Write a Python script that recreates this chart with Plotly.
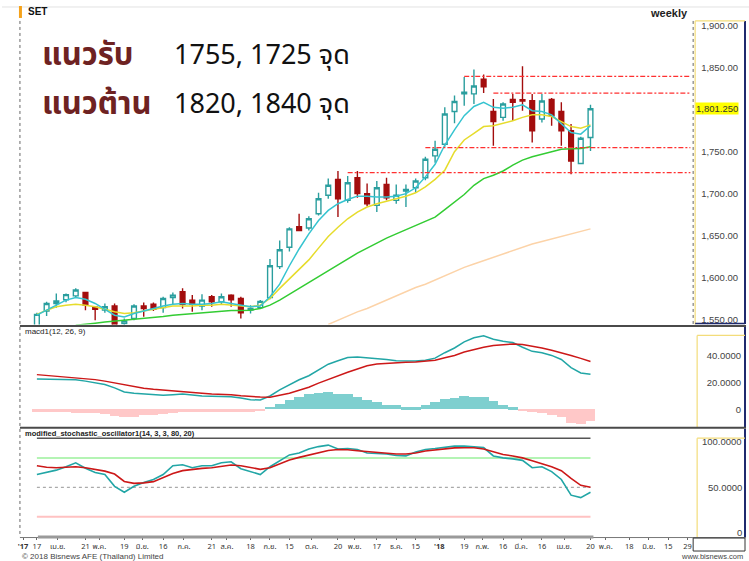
import pandas as pd
import plotly.graph_objects as go

W, H = 749, 561
def px(x): return x / W
def py(y): return 1 - y / H

# ---------------- data ----------------
start_week = "2017-03-17"
n_weeks = 58
weeks = pd.date_range(start_week, periods=n_weeks, freq="7D")

opens = [1538,1560,1569,1573.5,1578,1582,1564.5,1561,1566,1545,1551,1566,1568,1564,1576,1583,1573,1566,1577,1571,
         1579,1575,1561,1564,1576,1613,1636,1660.5,1659,1676,1698,1717,1692,1719,1700,1686,1711,1692,1703,1707,
         1719,1745,1759,1798,1819,1819,1836.5,1798,1791,1812.5,1812,1811,1789,1812.5,1798,1775,1736,1767]
highs = [1558,1571,1581,1581,1587,1583,1565,1569,1569,1551,1568,1570,1570,1577,1582,1587,1579,1580,1579,1581,
         1580,1577,1567,1573,1622,1644,1660,1676,1673,1701,1718,1727,1721,1727,1712,1715,1719,1711,1711,1718,
         1744,1763,1803,1817,1839,1848,1842,1813,1809,1819,1852,1819,1819,1814,1809,1783,1768,1806]
lows = [1530,1554,1564,1570.5,1576,1561,1549,1558,1535,1542,1549,1553,1560,1558,1568,1563,1559,1561,1565,1568,
        1565,1551,1557,1563,1574,1610,1631,1655,1656,1674,1694,1672,1689,1695,1685,1678,1692,1688,1684,1701,
        1716,1737,1756,1784,1805,1807,1820,1757,1787,1787,1799,1761,1785,1781,1757,1723,1735,1751]
closes = [1556,1569,1572,1579.5,1585,1567,1562,1565,1540,1548,1566,1563,1562,1575,1579,1568,1568,1573,1571,1577,
          1573.5,1558,1563,1571.5,1614,1633,1658,1656,1670,1694,1710,1694,1713,1700,1688,1707,1695,1698,1705,1715,
          1741,1753,1795,1810,1821,1828.5,1827.5,1786,1807,1809,1810.5,1775,1810.5,1793,1775,1739,1766,1801.25]

ma_cyan = [1555,1561,1568,1573,1576,1574,1569,1562,1555,1553,1557,1560,1563,1566,1568,1569,1568,1568,1569,1571,
           1569,1567,1565,1566,1577,1592,1614,1634,1652,1668,1680,1688,1693,1697,1697,1696,1696,1697,1700,1707,
           1720,1735,1758,1776,1793,1804,1809,1803,1802,1803,1806,1799,1798,1794,1783,1773,1771,1781]
ma_yellow = [1556,1561,1565,1567,1568,1567,1565,1562,1559,1557,1558,1560,1562,1564,1566,1566,1566,1567,1567,1568,
             1567,1566,1565,1567,1575,1587,1598,1609,1621,1635,1649,1660,1670,1678,1684,1688,1691,1694,1697,1701,
             1708,1717,1728,1750,1764,1772,1780,1781,1784,1787,1791,1794,1794,1792,1786,1780,1778,1782]
ma_green = [None,None,None,None,1543,1544,1545.5,1547,1548,1549,1550,1551,1552.5,1553.5,1555,1556,1557,1558,1559,1560,
            1560.5,1560.7,1561,1563,1567,1573,1580,1587,1594,1601,1609,1616,1622,1629,1635,1641,1647,1652,1657,1662,
            1667,1672,1681,1690,1699,1710,1718,1722,1727,1734,1740,1744,1747,1750,1753,1753.5,1754,1756]
ma_peach = [None]*30 + [1544,1549,1554,1559,1563,1568,1573,1578,1583,1588,1592,1597,1602,1607,1612,1616,1620,1624,
                        1628,1632,1636,1640,1643,1646,1649,1652,1655,1658]

levels = [1840, 1820, 1755, 1725]
level_start = ["2018-01-19", "2018-02-09", "2017-12-22", "2017-10-27"]
level_end = "2018-07-01"
last_price = 1801.25

macd = [22.5,22.3,22.2,22.1,22,21,19.8,18.5,16,13,12,11.5,11,10.5,11,11.5,10.8,10,9.8,9.6,
        9.5,8.5,7.2,7,10,14.5,18.5,22,25,29,33.5,36,38.5,38.8,38.3,38,37,36,35.8,35.8,
        36.5,38,42,45.5,50,53,54.5,52,50.5,49.5,46,43,42,40,37,31,27,26]
signal = [25.8,25.2,24.6,24,23.4,22.8,22.1,21,19.7,18.2,16.7,15.8,15,14.3,13.7,13,12.5,12,11.5,11.3,
          11,10.2,9.5,9.2,9,10.3,12,14.2,16.5,19.5,22.3,24.8,27.5,30,32.3,33.6,34.2,34.7,35,35.2,
          35.6,36.5,38.3,40,42.5,44.5,46,47.3,48,48.5,48,47,45.5,43.8,42,40,37.8,35.5]
hist = [-2.5,-2.5,-2.5,-2.5,-2.7,-3,-3,-3.5,-5,-5.8,-5.5,-4.5,-4,-3.5,-2.8,-2.5,-2.4,-2.3,-2.2,-2,
        -1.8,-1.8,-2,-1.5,1.5,4,7,9,11.5,12,12.8,11.5,10.8,9,7,5,3.3,3.3,1.3,1.3,
        3.3,5.5,7.8,8.5,9.5,9.2,8.8,6,3.3,1.3,-1,-2.5,-3,-4,-6,-10,-11,-9]

stoch_k = [63,65.5,67.5,71,75,69.5,65,63,51,45,51,55,58,63,72,73,70,72,72,75,
           76,69,66,63,71,77,83,85,89,91.5,93,89,89.5,88.5,85,84.5,84,82.5,82,86,
           88.5,89.5,91,92,92,91.5,90.5,82,80,79,77.5,70,71,66,58,42,39.5,45]
stoch_d = [72,70.5,70,70.5,71,70,68.5,66.5,63.5,56,54,54.5,55.8,60,64,67,68.5,69.3,70,71,
           72.7,72,70,68.3,70,74,77.8,80.5,83,85.5,87.5,88.5,88.3,87.3,86.5,85.7,84.8,84,84,85,
           87,88.3,89.3,90.2,90.3,90.3,89,86.3,83.5,82,80,77,74,71,67,59,52,50]
stoch_levels = [100, 80, 50, 20]

price_ticks = [1550, 1600, 1650, 1700, 1750, 1850, 1900]
macd_ticks = [0, 20, 40]
macd_ticktext = ["0", "20.0000", "40.0000"]
stoch_ticktext = ["100.0000", "50.0000", "0"]

tick_dates = ["2017-03-07","2017-03-17","2017-04-01","2017-04-21","2017-05-01","2017-05-19","2017-06-01",
              "2017-06-16","2017-07-01","2017-07-21","2017-08-01","2017-08-18","2017-09-01","2017-09-15",
              "2017-10-01","2017-10-20","2017-11-01","2017-11-17","2017-12-01","2017-12-15","2018-01-01",
              "2018-01-19","2018-02-01","2018-02-16","2018-03-01","2018-03-16","2018-04-01","2018-04-20",
              "2018-05-01","2018-05-18","2018-06-01","2018-06-15","2018-06-29"]
tick_text = ["<b>'17</b>","17","เม.ย.","21","พ.ค.","19","มิ.ย.","16","ก.ค.","21","ส.ค.","18","ก.ย.","15",
             "ต.ค.","20","พ.ย.","17","ธ.ค.","15","<b>'18</b>","19","ก.พ.","16","มี.ค.","16","เม.ย.","20",
             "พ.ค.","18","มิ.ย.","15","29"]

support_label = "แนวรับ"
support_text = "1755, 1725 จุด"
resist_label = "แนวต้าน"
resist_text = "1820, 1840 จุด"

# ---------------- styles ----------------
TEAL = "#2a9e9e"
DRED = "#a30d0d"
CYAN = "#36c4d0"
YEL = "#e6dc2c"
GRN = "#33cc33"
PEACH = "#fcd3a8"
LVL = "#ff3030"
FONT = "Arial, 'Liberation Sans', sans-serif"
THAI = "Tahoma, 'Noto Sans Thai', 'Noto Sans Thai UI', Loma, Garuda, 'Noto Sans', sans-serif"
x_range = ["2017-03-04 19:00", "2018-07-03"]

fig = go.Figure()

fig.add_trace(go.Candlestick(
    x=weeks, open=opens, high=highs, low=lows, close=closes,
    increasing=dict(line=dict(color=TEAL, width=1.4), fillcolor="white"),
    decreasing=dict(line=dict(color=DRED, width=1.4), fillcolor=DRED),
    whiskerwidth=0, xaxis="x", yaxis="y", showlegend=False, hoverinfo="skip"))
for ma, col in [(ma_peach, PEACH), (ma_green, GRN), (ma_yellow, YEL), (ma_cyan, CYAN)]:
    fig.add_trace(go.Scatter(x=weeks, y=ma, mode="lines", line=dict(color=col, width=1.5),
                             xaxis="x", yaxis="y", showlegend=False, hoverinfo="skip"))
for lv, st in zip(levels, level_start):
    fig.add_trace(go.Scatter(x=[st, level_end], y=[lv, lv], mode="lines",
                             line=dict(color=LVL, width=1.2, dash="5px,2px,2px,2px"),
                             xaxis="x", yaxis="y", showlegend=False, hoverinfo="skip"))

hist_colors = ["#7ecfcf" if v >= 0 else "#ffc8c8" for v in hist]
fig.add_trace(go.Bar(x=weeks, y=hist, marker=dict(color=hist_colors, line=dict(width=0)),
                     xaxis="x2", yaxis="y2", showlegend=False, hoverinfo="skip"))
fig.add_trace(go.Scatter(x=weeks, y=macd, mode="lines", line=dict(color="#22a6a6", width=1.5),
                         xaxis="x2", yaxis="y2", showlegend=False, hoverinfo="skip"))
fig.add_trace(go.Scatter(x=weeks, y=signal, mode="lines", line=dict(color="#cc1818", width=1.5),
                         xaxis="x2", yaxis="y2", showlegend=False, hoverinfo="skip"))

lvl_styles = {100: dict(color="#555555", width=1.5), 80: dict(color="#9bf09b", width=1.5),
              50: dict(color="#aaaaaa", width=1.2, dash="dot"), 20: dict(color="#ffc2c2", width=2)}
for lv in stoch_levels:
    fig.add_trace(go.Scatter(x=[weeks[0], weeks[-1]], y=[lv, lv], mode="lines", line=lvl_styles[lv],
                             xaxis="x3", yaxis="y3", showlegend=False, hoverinfo="skip"))
fig.add_trace(go.Scatter(x=weeks, y=stoch_k, mode="lines", line=dict(color="#22a6a6", width=1.6),
                         xaxis="x3", yaxis="y3", showlegend=False, hoverinfo="skip"))
fig.add_trace(go.Scatter(x=weeks, y=stoch_d, mode="lines", line=dict(color="#cc1818", width=1.6),
                         xaxis="x3", yaxis="y3", showlegend=False, hoverinfo="skip"))

xdom = [px(18), px(693)]
xcommon = dict(domain=xdom, range=x_range, type="date", showgrid=False, zeroline=False,
               showline=False, rangeslider=dict(visible=False), fixedrange=True)
ycommon = dict(side="left", anchor="free", position=px(745), showgrid=False, zeroline=False,
               showline=True, linecolor="#1f2a6e", linewidth=2, ticks="",
               tickfont=dict(family=FONT, size=9.5, color="#444"), fixedrange=True)

NAVY = "#1f2a6e"
YBOX = "#f3dc7a"
shapes = [
    dict(type="line", xref="paper", yref="paper", x0=0, x1=1, y0=py(6), y1=py(6), line=dict(color="#e2e2e2", width=1)),
    dict(type="rect", xref="paper", yref="paper", x0=px(17), x1=px(20), y0=py(17), y1=py(5), fillcolor="#f5a21b", line=dict(width=0)),
    dict(type="line", xref="paper", yref="paper", x0=px(18), x1=px(18), y0=py(20), y1=py(537), line=dict(color="#666", width=1, dash="dot")),
    dict(type="line", xref="paper", yref="paper", x0=px(693), x1=px(693), y0=py(20), y1=py(324), line=dict(color="#666", width=1, dash="dot")),
    dict(type="line", xref="paper", yref="paper", x0=px(695), x1=px(695), y0=py(20), y1=py(324), line=dict(color=YBOX, width=1.2)),
    dict(type="line", xref="paper", yref="paper", x0=px(695), x1=px(745), y0=py(20), y1=py(20), line=dict(color=YBOX, width=1.2)),
    dict(type="line", xref="paper", yref="paper", x0=px(695), x1=px(745), y0=py(323), y1=py(323), line=dict(color=NAVY, width=1.5)),
    dict(type="line", xref="paper", yref="paper", x0=px(697), x1=px(697), y0=py(335), y1=py(427), line=dict(color=YBOX, width=1.2)),
    dict(type="line", xref="paper", yref="paper", x0=px(697), x1=px(745), y0=py(335), y1=py(335), line=dict(color=YBOX, width=1.2)),
    dict(type="line", xref="paper", yref="paper", x0=px(697), x1=px(697), y0=py(438), y1=py(537), line=dict(color=YBOX, width=1.2)),
    dict(type="line", xref="paper", yref="paper", x0=px(697), x1=px(745), y0=py(438), y1=py(438), line=dict(color=YBOX, width=1.2)),
    dict(type="line", xref="paper", yref="paper", x0=px(18), x1=px(746), y0=py(325.5), y1=py(325.5), line=dict(color="#4a4a4a", width=2)),
    dict(type="line", xref="paper", yref="paper", x0=px(18), x1=px(746), y0=py(427.5), y1=py(427.5), line=dict(color="#4a4a4a", width=2)),
    dict(type="line", xref="paper", yref="paper", x0=px(18), x1=px(746), y0=py(537.5), y1=py(537.5), line=dict(color="#777", width=1)),
    dict(type="rect", xref="paper", yref="paper", x0=px(36), x1=px(593), y0=py(538.5), y1=py(535.5), fillcolor="#9a9a9a", line=dict(width=0)),
    dict(type="rect", xref="paper", yref="paper", x0=px(693), x1=px(745), y0=py(551), y1=py(538), line=dict(color="#333", width=1)),
]

ann = [
    dict(text="<b>SET</b>", x=px(24), y=py(11), xanchor="left", yanchor="middle", font=dict(family=FONT, size=10, color="#111")),
    dict(text="<b>weekly</b>", x=px(690), y=py(12), xanchor="right", yanchor="middle", font=dict(family=FONT, size=11, color="#222")),
    dict(text="<b>" + support_label + "</b>", x=px(38), y=py(55), xanchor="left", yanchor="middle", font=dict(family=THAI, size=31, color="#6e2222")),
    dict(text=support_text, x=px(170), y=py(55), xanchor="left", yanchor="middle", font=dict(family=THAI, size=27, color="#111")),
    dict(text="<b>" + resist_label + "</b>", x=px(38), y=py(104), xanchor="left", yanchor="middle", font=dict(family=THAI, size=31, color="#6e2222")),
    dict(text=resist_text, x=px(170), y=py(104), xanchor="left", yanchor="middle", font=dict(family=THAI, size=27, color="#111")),
    dict(text="1,801.250", x=px(695), y=last_price, yref="y", xanchor="left", yanchor="middle", bgcolor="#ffff00",
         borderpad=0, font=dict(family=FONT, size=9.5, color="#333")),
    dict(text="macd1(12, 26, 9)", x=px(21), y=py(331), xanchor="left", yanchor="middle", font=dict(family=FONT, size=8, color="#222")),
    dict(text="<b>modified_stochastic_oscillator1(14, 3, 3, 80, 20)</b>", x=px(21), y=py(433), xanchor="left", yanchor="middle",
         font=dict(family=FONT, size=7.5, color="#222")),
    dict(text="© 2018 Bisnews AFE (Thailand) Limited", x=px(18), y=py(556), xanchor="left", yanchor="middle",
         font=dict(family=FONT, size=8, color="#444")),
    dict(text="www.bisnews.com", x=px(745), y=py(556), xanchor="right", yanchor="middle", font=dict(family=FONT, size=7.5, color="#444")),
]
# stochastic axis labels (placed as in the reference, slightly inset from the level lines)
for txt, ypix in zip(stoch_ticktext, [441, 487, 532]):
    ann.append(dict(text=txt, x=px(744), y=py(ypix), xanchor="right", yanchor="middle",
                    font=dict(family=FONT, size=9.5, color="#444")))
for a in ann:
    a.setdefault("xref", "paper")
    a.setdefault("yref", "paper")
    a["showarrow"] = False

fig.update_layout(
    width=W, height=H, autosize=False,
    margin=dict(l=0, r=0, t=0, b=0),
    paper_bgcolor="white", plot_bgcolor="white",
    bargap=0, showlegend=False,
    font=dict(family=FONT),
    xaxis=dict(anchor="y", showticklabels=False, **xcommon),
    xaxis2=dict(anchor="y2", matches="x", showticklabels=False, **xcommon),
    xaxis3=dict(anchor="y3", matches="x", showticklabels=True, tickvals=tick_dates, ticktext=tick_text,
                ticks="outside", ticklen=2, tickcolor="#666", tickangle=0,
                tickfont=dict(family=THAI, size=7.5, color="#333"), **xcommon),
    yaxis=dict(domain=[py(324), py(20)], range=[1544, 1906], tickvals=price_ticks, tickformat=",.2f",
               ticklabelstandoff=4, **ycommon),
    yaxis2=dict(domain=[py(427), py(327)], range=[-13.1, 60.7], tickvals=macd_ticks, ticktext=macd_ticktext,
                ticklabelstandoff=1, **ycommon),
    yaxis3=dict(domain=[py(537), py(429)], range=[-0.7, 109.2], showticklabels=False, **ycommon),
    shapes=shapes, annotations=ann,
)

fig.write_html("out.html")
